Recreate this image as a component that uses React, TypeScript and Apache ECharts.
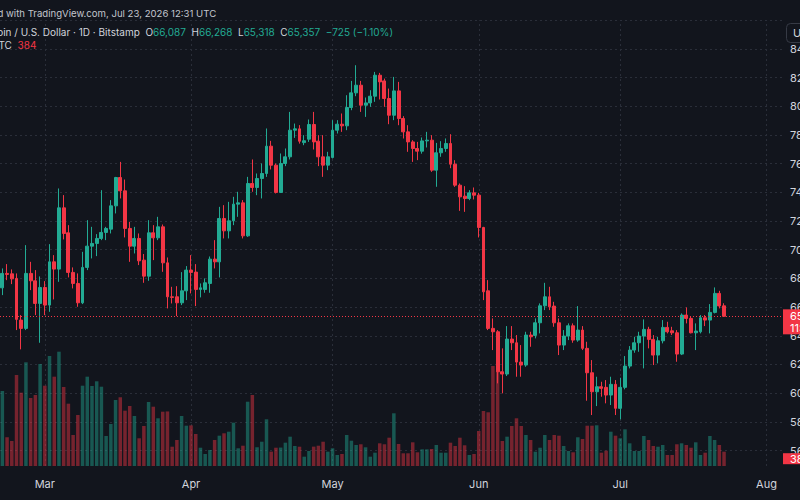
import React, { useEffect, useRef } from "react";
import * as echarts from "echarts";

// ---- chart content ----
const snapshotNote = "Created with TradingView.com, Jul 23, 2026 12:31 UTC";
const symbolName = "Bitcoin / U.S. Dollar · 1D · Bitstamp";
const volumeName = "Vol · BTC";
const quoteCurrency = "USD";
const barCountdown = "11:28:41";
const firstDay = "2026-02-20";
const emptyDaysAfter = 12;
const monthNames = ["Jan", "Feb", "Mar", "Apr", "May", "Jun", "Jul", "Aug", "Sep", "Oct", "Nov", "Dec"];
const priceMin = 56000;
const priceMax = 86000;
const priceStep = 2000;
const volumeAxisMax = 11967;

// daily OHLC, Feb 20 .. Jul 23
const opens = [
  67345, 68349, 68320, 68000, 65094, 64515, 68349, 67833, 66255, 67370,
  66140, 69157, 68650, 72921, 71180, 68420, 67650, 66300, 68767, 70250,
  70440, 70788, 71206, 71437, 73061, 75038, 74108, 71485, 70250, 70788,
  69275, 68160, 71180, 70830, 71597, 69087, 66718, 66718, 66300, 67136,
  68580, 68440, 67232, 67232, 67650, 69345, 69157, 72180, 71318, 72015,
  73180, 73270, 70970, 74620, 74341, 74968, 75317, 77222, 75897, 73995,
  76016, 76480, 78337, 78430, 77470, 77710, 78733, 77570, 76480, 75900,
  76433, 78337, 78755, 78640, 79920, 80939, 81473, 80080, 80240, 80707,
  82170, 81774, 80547, 79380, 81078, 79150, 78220, 77520, 77060, 76873,
  77590, 77640, 75550, 76760, 77060, 77410, 75966, 74502, 73736, 73575,
  73966, 73805, 71554, 67136, 64516, 64279, 61491, 61331, 63770, 63512,
  62167, 61958, 64049, 64028, 64906, 66091, 66718, 66070, 64906, 63352,
  63979, 64697, 63700, 64397, 63122, 61421, 60097, 60446, 60404, 59867,
  60613, 58940, 60404, 61888, 63003, 63512, 63979, 64446, 63749, 62655,
  63651, 64585, 64348, 64209, 62725, 65442, 65212, 64209, 64279, 65254,
  65094, 65631, 66955, 66087,
];
const highs = [
  68697, 69000, 68628, 68349, 65442, 70321, 69157, 68580, 68140, 67812,
  70390, 69624, 74273, 73810, 71715, 68767, 68349, 69854, 72064, 71597,
  71088, 74155, 71597, 73460, 75082, 76127, 74898, 71946, 71597, 71135,
  69700, 72064, 71715, 72295, 71760, 69460, 67415, 67460, 68440, 68860,
  69624, 68997, 67650, 68000, 69530, 70670, 72991, 73108, 73340, 73690,
  74040, 73460, 75082, 76295, 75317, 76016, 78455, 77593, 76016, 76713,
  77060, 79612, 78800, 78690, 77990, 79082, 79612, 77990, 77990, 76828,
  79037, 79037, 79500, 80776, 81774, 82867, 81774, 80616, 81125, 82402,
  82332, 81938, 81240, 82053, 81705, 79315, 78685, 77640, 77520, 77830,
  78220, 77990, 77450, 77570, 77760, 78056, 76245, 74620, 74433, 74154,
  74342, 73966, 71596, 67882, 65212, 64397, 63122, 64676, 64676, 64049,
  63352, 64279, 64279, 65212, 66258, 67693, 67415, 66369, 65212, 64397,
  64864, 64864, 66070, 64676, 63582, 62306, 61143, 60794, 60913, 61143,
  60913, 61073, 62585, 63282, 63930, 64279, 65143, 64627, 64049, 63930,
  65094, 64976, 64627, 64397, 65561, 65979, 65324, 64864, 65442, 65442,
  66209, 67373, 67136, 66268,
];
const lows = [
  66836, 67880, 67603, 64397, 63052, 64397, 67185, 65442, 63512, 65442,
  65672, 66534, 67763, 70720, 68070, 67303, 66020, 66209, 68580, 69394,
  69555, 70670, 70670, 71135, 72531, 73577, 70858, 69157, 69740, 68930,
  67694, 67833, 69276, 70670, 68460, 65907, 66255, 65373, 66140, 66488,
  66955, 66070, 66676, 67000, 67000, 68697, 68070, 70788, 70788, 71715,
  72295, 70788, 70900, 74040, 73806, 73577, 75082, 75598, 73925, 73967,
  75830, 76295, 77800, 77400, 77290, 77520, 76992, 75830, 75082, 75550,
  76365, 78105, 78220, 78337, 79730, 80707, 79612, 79264, 79967, 80314,
  80477, 79967, 78755, 79037, 78685, 77757, 76828, 76127, 76250, 76700,
  77130, 75430, 74390, 76480, 76830, 75687, 74384, 72711, 72641, 73457,
  73506, 70857, 66488, 64397, 63003, 60683, 59986, 61192, 63003, 61143,
  61143, 61839, 63233, 63819, 64167, 65791, 65791, 64627, 62655, 63003,
  63700, 63512, 63582, 63003, 59470, 58473, 59097, 59749, 59289, 59170,
  58473, 58174, 60265, 61728, 62815, 62885, 61728, 63122, 61958, 62076,
  63470, 64167, 64049, 62188, 62655, 64864, 64167, 63003, 64167, 64676,
  64167, 65561, 65909, 65318,
];
const closes = [
  68349, 68280, 67970, 65143, 64515, 68349, 67833, 66255, 67370, 66140,
  69157, 68650, 72921, 71135, 68420, 67650, 66300, 68767, 70250, 70440,
  70788, 71206, 71485, 73061, 75038, 74108, 71485, 70250, 70788, 69227,
  68160, 71180, 70830, 71597, 69087, 66718, 66676, 66300, 67136, 68580,
  68420, 67232, 67345, 67694, 69345, 69157, 72180, 71318, 72015, 73180,
  73270, 70970, 74620, 74341, 74968, 75317, 77222, 75897, 73995, 76016,
  76480, 78337, 78430, 77567, 77600, 78733, 77520, 76480, 75900, 76480,
  78337, 78755, 78640, 79920, 80939, 81473, 80080, 80240, 80707, 82170,
  81705, 80547, 79380, 81078, 79150, 78220, 77520, 77060, 76873, 77590,
  77640, 75550, 76760, 77060, 77410, 75966, 74502, 73687, 73575, 73966,
  73805, 71554, 67066, 64516, 64279, 61491, 61331, 63770, 63512, 62167,
  61958, 64049, 63930, 64906, 66091, 66718, 66021, 64906, 63352, 63979,
  64697, 63700, 64397, 63122, 61421, 60097, 60446, 60334, 59867, 60613,
  58940, 60404, 61888, 63003, 63512, 63979, 64446, 63749, 62655, 63651,
  64585, 64279, 64209, 62725, 65442, 65212, 64209, 64327, 65254, 65094,
  65631, 66955, 66082, 65357,
];
// daily volume, BTC
const volumes = [
  2014, 771, 671, 2443, 1968, 2784, 1826, 1906, 2739, 2156,
  2954, 2398, 3069, 2121, 1673, 832, 1369, 2156, 2398, 2148,
  2274, 2129, 806, 1128, 1772, 1845, 1485, 1611, 1343, 744,
  1074, 1718, 1592, 1281, 1458, 1465, 518, 698, 1343, 1082,
  1090, 859, 491, 322, 430, 698, 814, 878, 921, 1163,
  475, 545, 1726, 1906, 502, 652, 1254, 387, 491, 495,
  626, 787, 537, 518, 250, 403, 520, 545, 652, 385,
  475, 295, 322, 832, 679, 564, 583, 502, 250, 357,
  609, 583, 760, 1415, 591, 341, 341, 636, 368, 448,
  448, 456, 564, 357, 357, 626, 537, 760, 556, 295,
  322, 940, 1477, 1442, 2685, 2551, 671, 787, 1074, 1281,
  1074, 832, 698, 384, 491, 832, 698, 832, 814, 537,
  403, 368, 771, 725, 1082, 1082, 1093, 357, 411, 921,
  814, 744, 985, 609, 403, 403, 806, 698, 537, 518,
  564, 295, 295, 583, 609, 564, 491, 636, 295, 357,
  806, 698, 564, 384,
];

// ---- styling ----
const BG = "#12151d";
const UP = "#22ab94";
const DOWN = "#f23645";
const VOL_UP = "rgba(34,171,148,0.45)";
const VOL_DOWN = "rgba(242,54,69,0.45)";
const GRID = "#2a2e39";
const TEXT = "#d1d4dc";
const NOTE = "#c3c6ce";
const FONT = "Inter";

function dayList(start: string, n: number): string[] {
  const out: string[] = [];
  const t0 = Date.parse(start + "T00:00:00Z");
  for (let i = 0; i < n; i++) out.push(new Date(t0 + i * 86400000).toISOString().slice(0, 10));
  return out;
}

const fmt = (v: number) => v.toLocaleString("en-US");

export default function App() {
  const ref = useRef<HTMLDivElement>(null);

  useEffect(() => {
    const el = ref.current;
    if (!el) return;
    const chart = echarts.init(el, null, { renderer: "svg" });

    const last = closes.length - 1;
    const days = dayList(firstDay, closes.length + emptyDaysAfter);
    const monthStarts = days.filter((d) => d.endsWith("-01"));
    const candles = closes.map((c, i) => [opens[i], c, lows[i], highs[i]]);
    const volumeBars = volumes.map((v, i) => ({
      value: v,
      itemStyle: { color: closes[i] >= opens[i] ? VOL_UP : VOL_DOWN },
    }));

    chart.setOption({
      animation: false,
      backgroundColor: BG,
      textStyle: { fontFamily: FONT },
      grid: [
        { left: 0, right: 17, top: 20.3, height: 430.2, containLabel: false, outerBoundsMode: "none" },
        { left: 0, right: 17, top: 20.3, bottom: 34, containLabel: false, outerBoundsMode: "none" },
      ],
      xAxis: [
        {
          type: "category",
          gridIndex: 0,
          data: days,
          boundaryGap: true,
          axisLine: { show: false },
          axisTick: { show: false },
          axisLabel: { show: false },
          splitLine: { show: false },
        },
        {
          type: "category",
          gridIndex: 1,
          data: days,
          boundaryGap: true,
          axisLine: { show: false },
          axisTick: { show: false },
          splitLine: { show: false },
          axisLabel: {
            interval: (_i: number, v: string) => v.endsWith("-01"),
            formatter: (v: string) => monthNames[Number(v.slice(5, 7)) - 1],
            color: TEXT,
            fontSize: 11,
            margin: 12,
          },
        },
      ],
      yAxis: [
        {
          type: "value",
          gridIndex: 0,
          position: "right",
          min: priceMin,
          max: priceMax,
          interval: priceStep,
          axisLine: { show: false },
          axisTick: { show: false },
          axisLabel: { color: TEXT, fontSize: 11, margin: 7, formatter: fmt, showMaxLabel: false },
          splitLine: { lineStyle: { color: GRID, type: [2, 3], width: 1 } },
        },
        {
          type: "value",
          gridIndex: 1,
          min: 0,
          max: volumeAxisMax,
          show: false,
          splitLine: { show: false },
        },
      ],
      series: [
        {
          type: "bar",
          name: "Volume",
          xAxisIndex: 1,
          yAxisIndex: 1,
          data: volumeBars,
          barWidth: "74%",
          silent: true,
          markLine: {
            silent: true,
            z: 1,
            symbol: ["none", "none"],
            label: { show: false },
            lineStyle: { color: GRID, type: [2, 3], width: 1 },
            data: monthStarts.map((d) => ({ xAxis: d })),
          },
        },
        {
          type: "candlestick",
          name: "BTCUSD",
          xAxisIndex: 0,
          yAxisIndex: 0,
          data: candles,
          barWidth: "72%",
          silent: true,
          itemStyle: {
            color: UP,
            color0: DOWN,
            borderColor: UP,
            borderColor0: DOWN,
            borderWidth: 1,
          },
          markLine: {
            silent: true,
            symbol: ["none", "none"],
            label: { show: false },
            lineStyle: { color: DOWN, type: [1, 2], width: 1 },
            data: [{ yAxis: closes[last] }],
          },
        },
      ],
    });

    // header and price-scale tags
    const ctx = document.createElement("canvas").getContext("2d")!;
    const measure = (s: string, size: number) => {
      ctx.font = `${size}px ${FONT}`;
      return ctx.measureText(s).width;
    };
    const change = closes[last] - closes[last - 1];
    const pct = (change / closes[last - 1]) * 100;
    const sign = change < 0 ? "\u2212" : "+";
    const changeText = `${sign}${fmt(Math.abs(change))} (${sign}${Math.abs(pct).toFixed(2)}%)`;
    const lastUp = closes[last] >= opens[last];
    const lastColor = lastUp ? UP : DOWN;

    const yClose = chart.convertToPixel({ yAxisIndex: 0 }, closes[last]) as number;
    const yVol = chart.convertToPixel({ yAxisIndex: 1 }, volumes[last]) as number;

    const headSize = 10;
    const noteSize = 9.6;

    chart.setOption({
      graphic: {
        elements: [
          {
            type: "text",
            z: 100,
            x: 6 - measure("Created ", noteSize),
            y: 13,
            silent: true,
            style: { text: snapshotNote, fill: NOTE, fontSize: noteSize, fontFamily: FONT, verticalAlign: "middle" },
          },
          {
            type: "text",
            z: 100,
            x: 20.7 - measure("Bitcoin / ", headSize),
            y: 32,
            silent: true,
            style: {
              text:
                `{t|${symbolName}}  {t|O}{v|${fmt(opens[last])}}  {t|H}{v|${fmt(highs[last])}}  ` +
                `{t|L}{v|${fmt(lows[last])}}  {t|C}{v|${fmt(closes[last])}}  {v|${changeText}}`,
              fill: TEXT,
              fontSize: headSize,
              fontFamily: FONT,
              verticalAlign: "middle",
              rich: {
                t: { fill: TEXT, fontSize: headSize, fontFamily: FONT },
                v: { fill: UP, fontSize: headSize, fontFamily: FONT },
              },
            },
          },
          {
            type: "text",
            z: 100,
            x: -1 - measure("Vol · B", headSize),
            y: 45,
            silent: true,
            style: {
              text: `{t|${volumeName}}  {r|${fmt(volumes[last])}}`,
              fill: TEXT,
              fontSize: headSize,
              fontFamily: FONT,
              verticalAlign: "middle",
              rich: {
                t: { fill: TEXT, fontSize: headSize, fontFamily: FONT },
                r: { fill: lastColor, fontSize: headSize, fontFamily: FONT },
              },
            },
          },
          // currency button
          {
            type: "rect",
            z: 100,
            silent: true,
            shape: { x: 786.5, y: 23.5, width: 30, height: 19, r: 4 },
            style: { fill: BG, stroke: "#363a45", lineWidth: 1 },
          },
          {
            type: "text",
            z: 101,
            silent: true,
            x: 793,
            y: 33,
            style: { text: quoteCurrency, fill: TEXT, fontSize: 11, fontFamily: FONT, verticalAlign: "middle" },
          },
          // last price tag
          {
            type: "rect",
            z: 100,
            silent: true,
            shape: { x: 783, y: yClose - 7, width: 20, height: 25 },
            style: { fill: lastColor },
          },
          {
            type: "text",
            z: 101,
            silent: true,
            x: 790,
            y: yClose,
            style: { text: fmt(closes[last]), fill: "#ffffff", fontSize: 11, fontFamily: FONT, verticalAlign: "middle" },
          },
          {
            type: "text",
            z: 101,
            silent: true,
            x: 790,
            y: yClose + 11.5,
            style: { text: barCountdown, fill: "#ffffff", fontSize: 11, fontFamily: FONT, verticalAlign: "middle" },
          },
          // last volume tag
          {
            type: "rect",
            z: 100,
            silent: true,
            shape: { x: 783, y: yVol + 1.5, width: 20, height: 11 },
            style: { fill: lastColor },
          },
          {
            type: "text",
            z: 101,
            silent: true,
            x: 790,
            y: yVol + 7,
            style: { text: fmt(volumes[last]), fill: "#ffffff", fontSize: 11, fontFamily: FONT, verticalAlign: "middle" },
          },
        ],
      },
    });

    return () => chart.dispose();
  }, []);

  return (
    <div
      ref={ref}
      style={{ position: "fixed", left: 0, top: 0, width: 800, height: 500, background: BG }}
    />
  );
}
